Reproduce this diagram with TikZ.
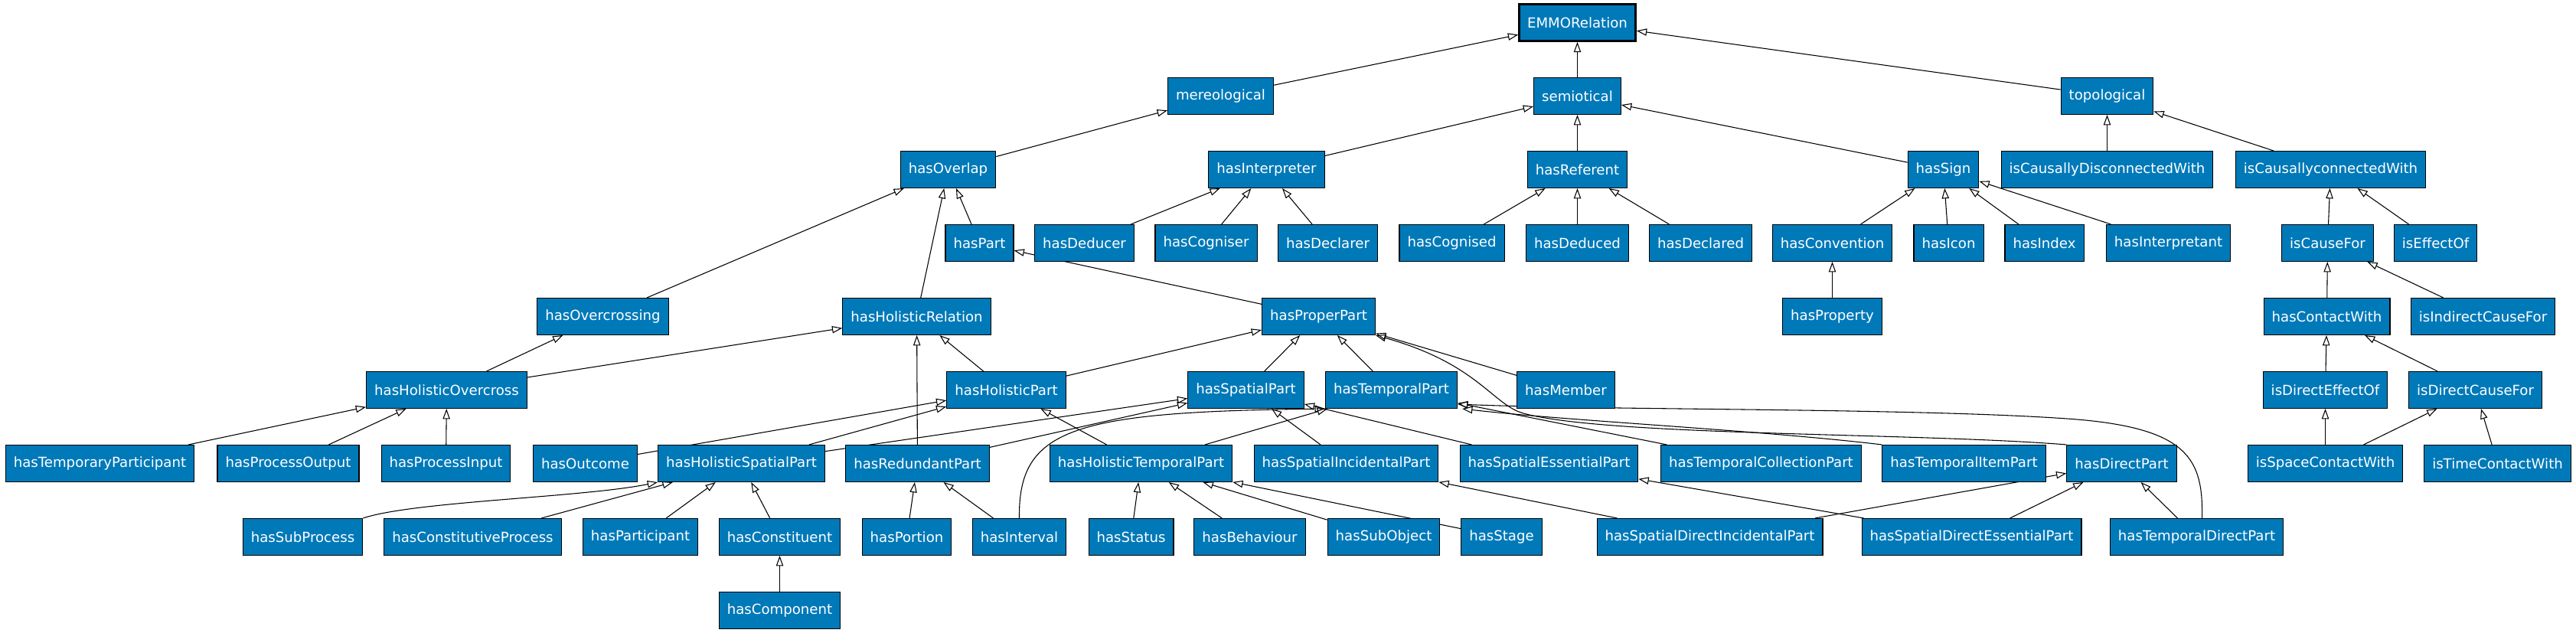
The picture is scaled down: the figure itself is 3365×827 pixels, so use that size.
\documentclass[tikz,border=0pt]{standalone}
\usepackage{fontspec}
\setmainfont{DejaVu Sans}
\usetikzlibrary{arrows.meta,calc,backgrounds}
\definecolor{emmoblue}{RGB}{0,121,185}
\tikzset{
  cls/.style={draw=black, line width=0.8pt, fill=emmoblue, text=white,
    minimum height=36pt, minimum width=54pt, inner xsep=7.92pt, inner ysep=0pt,
    font=\fontsize{13.6pt}{16pt}\selectfont},
  rootcls/.style={cls, line width=2pt},
  isa/.style={-{Triangle[open,length=10pt,width=7pt]}, line width=0.8pt, black}
}
\begin{document}
\begin{tikzpicture}[x=0.75pt,y=-0.75pt]
\useasboundingbox (0,0) rectangle (3365,827);
\begin{scope}[shift={(0.5,0.5)}]
% row 0
\node[rootcls] (EMMORelation) at (2060,29) {EMMORelation};
% row 1
\node[cls] (mereological) at (1594,125) {mereological};
\node[cls] (semiotical) at (2060,125) {semiotical};
\node[cls] (topological) at (2752,125) {topological};
% row 2
\node[cls] (hasOverlap) at (1238,221) {hasOverlap};
\node[cls] (hasInterpreter) at (1654,221) {hasInterpreter};
\node[cls] (hasReferent) at (2060,221) {hasReferent};
\node[cls] (hasSign) at (2538,221) {hasSign};
\node[cls] (isCausallyDisconnectedWith) at (2752,221) {isCausallyDisconnectedWith};
\node[cls] (isCausallyconnectedWith) at (3044,221) {isCausallyconnectedWith};
% row 3
\node[cls] (hasPart) at (1279,317) {hasPart};
\node[cls] (hasDeducer) at (1416,317) {hasDeducer};
\node[cls] (hasCogniser) at (1575,317) {hasCogniser};
\node[cls] (hasDeclarer) at (1734,317) {hasDeclarer};
\node[cls] (hasCognised) at (1896,317) {hasCognised};
\node[cls] (hasDeduced) at (2060,317) {hasDeduced};
\node[cls] (hasDeclared) at (2221,317) {hasDeclared};
\node[cls] (hasConvention) at (2393,317) {hasConvention};
\node[cls] (hasIcon) at (2545,317) {hasIcon};
\node[cls] (hasIndex) at (2670,317) {hasIndex};
\node[cls] (hasInterpretant) at (2832,317) {hasInterpretant};
\node[cls] (isCauseFor) at (3040,317) {isCauseFor};
\node[cls] (isEffectOf) at (3181,317) {isEffectOf};
% row 4
\node[cls] (hasOvercrossing) at (787,413) {hasOvercrossing};
\node[cls] (hasHolisticRelation) at (1197,413) {hasHolisticRelation};
\node[cls] (hasProperPart) at (1722,413) {hasProperPart};
\node[cls] (hasProperty) at (2393,413) {hasProperty};
\node[cls] (hasContactWith) at (3039,413) {hasContactWith};
\node[cls] (isIndirectCauseFor) at (3243,413) {isIndirectCauseFor};
% row 5
\node[cls] (hasHolisticOvercross) at (583,509) {hasHolisticOvercross};
\node[cls] (hasHolisticPart) at (1314,509) {hasHolisticPart};
\node[cls] (hasSpatialPart) at (1627,509) {hasSpatialPart};
\node[cls] (hasTemporalPart) at (1817,509) {hasTemporalPart};
\node[cls] (hasMember) at (2045,509) {hasMember};
\node[cls] (isDirectEffectOf) at (3037,509) {isDirectEffectOf};
\node[cls] (isDirectCauseFor) at (3233,509) {isDirectCauseFor};
% row 6
\node[cls] (hasTemporaryParticipant) at (130,605) {hasTemporaryParticipant};
\node[cls] (hasProcessOutput) at (376,605) {hasProcessOutput};
\node[cls] (hasProcessInput) at (582,605) {hasProcessInput};
\node[cls] (hasOutcome) at (764,605) {hasOutcome};
\node[cls] (hasHolisticSpatialPart) at (968,605) {hasHolisticSpatialPart};
\node[cls] (hasRedundantPart) at (1198,605) {hasRedundantPart};
\node[cls] (hasHolisticTemporalPart) at (1490,605) {hasHolisticTemporalPart};
\node[cls] (hasSpatialIncidentalPart) at (1758,605) {hasSpatialIncidentalPart};
\node[cls] (hasSpatialEssentialPart) at (2023,605) {hasSpatialEssentialPart};
\node[cls] (hasTemporalCollectionPart) at (2300,605) {hasTemporalCollectionPart};
\node[cls] (hasTemporalItemPart) at (2565,605) {hasTemporalItemPart};
\node[cls] (hasDirectPart) at (2771,605) {hasDirectPart};
\node[cls] (isSpaceContactWith) at (3037,605) {isSpaceContactWith};
\node[cls] (isTimeContactWith) at (3262,605) {isTimeContactWith};
% row 7
\node[cls] (hasSubProcess) at (395,701) {hasSubProcess};
\node[cls] (hasConstitutiveProcess) at (617,701) {hasConstitutiveProcess};
\node[cls] (hasParticipant) at (836,701) {hasParticipant};
\node[cls] (hasConstituent) at (1018,701) {hasConstituent};
\node[cls] (hasPortion) at (1184,701) {hasPortion};
\node[cls] (hasInterval) at (1331,701) {hasInterval};
\node[cls] (hasStatus) at (1477,701) {hasStatus};
\node[cls] (hasBehaviour) at (1632,701) {hasBehaviour};
\node[cls] (hasSubObject) at (1807,701) {hasSubObject};
\node[cls] (hasStage) at (1961,701) {hasStage};
\node[cls] (hasSpatialDirectIncidentalPart) at (2233,701) {hasSpatialDirectIncidentalPart};
\node[cls] (hasSpatialDirectEssentialPart) at (2575,701) {hasSpatialDirectEssentialPart};
\node[cls] (hasTemporalDirectPart) at (2869,701) {hasTemporalDirectPart};
% row 8
\node[cls] (hasComponent) at (1018,797) {hasComponent};
\end{scope}

\begin{scope}[on background layer]
\fill[white] (0,0) rectangle (3365,827);
\foreach \a/\b in {
  mereological/EMMORelation, semiotical/EMMORelation, topological/EMMORelation,
  hasOverlap/mereological, hasInterpreter/semiotical, hasReferent/semiotical,
  hasSign/semiotical, isCausallyDisconnectedWith/topological,
  isCausallyconnectedWith/topological,
  hasPart/hasOverlap, hasOvercrossing/hasOverlap, hasHolisticRelation/hasOverlap,
  hasDeducer/hasInterpreter, hasCogniser/hasInterpreter, hasDeclarer/hasInterpreter,
  hasCognised/hasReferent, hasDeduced/hasReferent, hasDeclared/hasReferent,
  hasConvention/hasSign, hasIcon/hasSign, hasIndex/hasSign, hasInterpretant/hasSign,
  isCauseFor/isCausallyconnectedWith, isEffectOf/isCausallyconnectedWith,
  hasProperty/hasConvention, hasProperPart/hasPart,
  hasContactWith/isCauseFor, isIndirectCauseFor/isCauseFor,
  isDirectEffectOf/hasContactWith, isDirectCauseFor/hasContactWith,
  isSpaceContactWith/isDirectEffectOf, isSpaceContactWith/isDirectCauseFor,
  isTimeContactWith/isDirectCauseFor,
  hasHolisticOvercross/hasOvercrossing, hasHolisticOvercross/hasHolisticRelation,
  hasHolisticPart/hasHolisticRelation, hasHolisticPart/hasProperPart,
  hasSpatialPart/hasProperPart, hasTemporalPart/hasProperPart, hasMember/hasProperPart,
  hasTemporaryParticipant/hasHolisticOvercross, hasProcessOutput/hasHolisticOvercross,
  hasProcessInput/hasHolisticOvercross,
  hasOutcome/hasHolisticPart, hasHolisticSpatialPart/hasHolisticPart,
  hasHolisticSpatialPart/hasSpatialPart,
  hasRedundantPart/hasHolisticRelation, hasRedundantPart/hasSpatialPart,
  hasHolisticTemporalPart/hasHolisticPart, hasHolisticTemporalPart/hasTemporalPart,
  hasSpatialIncidentalPart/hasSpatialPart, hasSpatialEssentialPart/hasSpatialPart,
  hasTemporalCollectionPart/hasTemporalPart,
  hasConstitutiveProcess/hasHolisticSpatialPart, hasParticipant/hasHolisticSpatialPart,
  hasConstituent/hasHolisticSpatialPart, hasComponent/hasConstituent,
  hasPortion/hasRedundantPart, hasInterval/hasRedundantPart,
  hasStatus/hasHolisticTemporalPart, hasBehaviour/hasHolisticTemporalPart,
  hasSubObject/hasHolisticTemporalPart, hasStage/hasHolisticTemporalPart,
  hasSpatialDirectIncidentalPart/hasSpatialIncidentalPart,
  hasSpatialDirectIncidentalPart/hasDirectPart,
  hasSpatialDirectEssentialPart/hasSpatialEssentialPart,
  hasSpatialDirectEssentialPart/hasDirectPart,
  hasTemporalDirectPart/hasDirectPart}
  {\draw[isa] (\a) -- (\b);}
% curved connectors
\draw[isa] (hasSubProcess.north east) .. controls (540,655) and (760,650) .. (hasHolisticSpatialPart.south west);
\draw[isa] (hasInterval.north) .. controls (1330,560) and (1400,538) .. (hasTemporalPart.south west);
\coordinate (tdpStart) at ($(hasTemporalDirectPart.north)+(7,0)$);
\coordinate (tpEnd) at ($(hasTemporalPart.south east)+(0,-6)$);
\draw[isa] (tdpStart) .. controls (2878,600) and (2860,558) .. (2700,547)
  .. controls (2500,533) and (2100,536) .. (tpEnd);
\coordinate (tpEndB) at ($(hasTemporalPart.south east)+(6,0)$);
\draw[isa] (hasTemporalItemPart.north west) .. controls (2300,562) and (2050,550) .. (tpEndB);
\draw[isa] (hasDirectPart.north west) .. controls (2500,565) and (2100,570) .. (1990,540)
  .. controls (1950,529) and (1930,475) .. (hasProperPart.south east);
\end{scope}
\end{tikzpicture}
\end{document}
